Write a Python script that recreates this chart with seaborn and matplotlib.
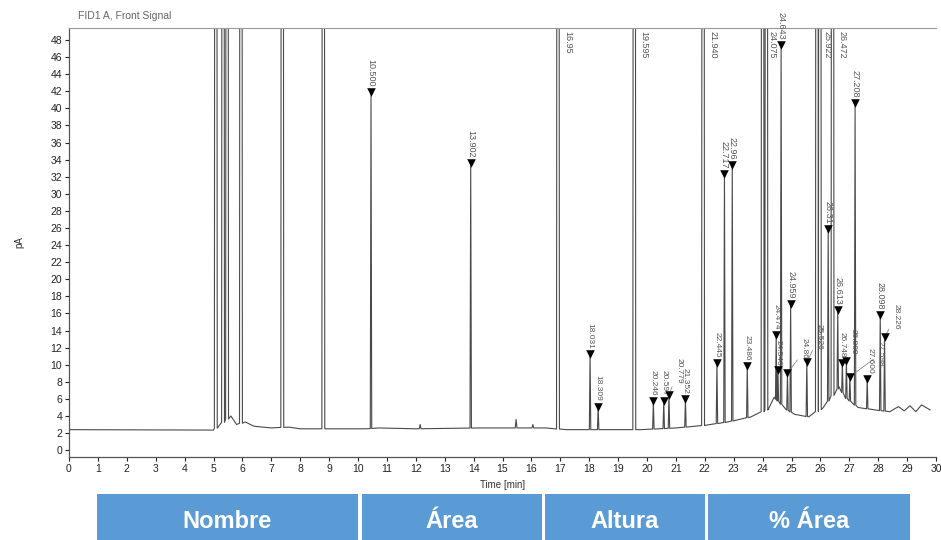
import numpy as np
import pandas as pd
import matplotlib
matplotlib.use("Agg")
import matplotlib.pyplot as plt
import seaborn as sns
from matplotlib.patches import Rectangle

# baseline of the FID signal (min, pA)
base_t = [0, 5.0, 5.6, 5.8, 6.1, 6.4, 7.0, 7.6, 8.0, 9.0, 10.3, 10.7, 12.0, 14.2,
          16.5, 17.2, 19.0, 19.8, 21.0, 22.0, 22.8, 23.6, 24.2, 24.4, 24.8, 25.1,
          25.6, 26.1, 26.65, 26.85, 27.3, 27.9, 28.4, 28.7, 28.9, 29.1, 29.3, 29.5, 29.8]
base_v = [2.4, 2.35, 4.0, 3.0, 3.3, 2.8, 2.6, 2.7, 2.5, 2.5, 2.5, 2.6, 2.5, 2.6,
          2.6, 2.4, 2.4, 2.4, 2.6, 2.9, 3.3, 3.9, 4.8, 6.2, 4.8, 4.2,
          3.9, 5.0, 7.4, 6.2, 5.0, 4.7, 4.5, 5.1, 4.6, 5.2, 4.5, 5.3, 4.7]

# peaks that run off the top of the scale
big_rt = [5.08, 5.33, 5.47, 5.95, 7.38, 8.80, 16.92, 19.56, 21.94, 24.00, 24.13,
          25.88, 25.98, 26.42]
big_label = ["", "", "", "", "", "", "16.95", "19.595", "21.940", "24.075", "",
             "25.922", "", "26.472"]

# integrated peaks with a marker (apex height in pA)
mark_rt = [10.45, 13.90, 18.03, 18.31, 20.22, 20.58, 20.76, 21.33, 22.42, 22.68,
           22.95, 23.47, 24.47, 24.53, 24.64, 24.86, 24.97, 25.53, 26.27, 26.60,
           26.76, 26.90, 27.02, 27.20, 27.62, 28.07, 28.22]
mark_v = [41.9, 33.6, 11.2, 5.1, 5.7, 5.7, 6.5, 6.0, 10.2, 32.3,
          33.4, 9.8, 13.5, 9.4, 47.4, 9.0, 17.1, 10.3, 25.9, 16.4,
          10.2, 10.4, 8.6, 40.6, 8.3, 15.8, 13.2]
mark_label = ["10.500", "13.902", "18.031", "18.309", "20.246", "20.597", "20.779",
              "21.352", "22.445", "22.717", "22.96", "23.486", "24.474", "24.546",
              "24.643", "24.867", "24.959", "25.526", "26.31", "26.613", "26.748",
              "26.889", "27.598", "27.208", "27.600", "28.098", "28.226"]

# small unmarked bumps
bump_rt = [12.15, 15.47, 16.05]
bump_v = [3.0, 3.6, 3.0]

header_labels = ["Nombre", "Área", "Altura", "% Área"]

# labels moved aside (points) with a leader line, as the integrator does
nudge = {"20.779": (7, 4), "24.546": (0, -1), "24.867": (12, 3), "25.526": (9, 5),
         "26.889": (5, 1), "27.598": (22, 3), "27.600": (2, 0), "28.226": (8, 2)}


def build_trace():
    pts = list(zip(base_t, base_v))
    peaks = [(r, 300.0, 0.05) for r in big_rt]
    peaks += [(r, h, 0.025) for r, h in zip(mark_rt, mark_v)]
    peaks += [(r, h, 0.03) for r, h in zip(bump_rt, bump_v)]
    for r, h, w in peaks:
        foot = np.interp(r, base_t, base_v)
        pts += [(r - w, foot), (r, h), (r + w, foot)]
    pts.sort(key=lambda p: p[0])
    return pd.DataFrame(pts, columns=["t", "v"])


sns.set_style("ticks")
plt.rcParams["font.family"] = ["Liberation Sans", "DejaVu Sans"]

fig = plt.figure(figsize=(9.41, 5.40), dpi=100)
ax = fig.add_axes([69 / 941, 1 - 457 / 540, 867 / 941, 429 / 540])

trace = build_trace()
sns.lineplot(data=trace, x="t", y="v", estimator=None, sort=False,
             color="#4a4a4a", lw=0.8, ax=ax)

marks = pd.DataFrame({"t": mark_rt, "v": mark_v})
sns.scatterplot(data=marks, x="t", y="v", marker="v", s=38, color="black",
                edgecolor="black", linewidth=0, zorder=5, ax=ax)

for r, h, lab in zip(mark_rt, mark_v, mark_label):
    dx, dy = nudge.get(lab, (0, 0))
    arrow = dict(arrowstyle="-", lw=0.5, color="#777777",
                 shrinkA=0, shrinkB=3) if dx > 6 else None
    ax.annotate(lab, (r, h), xytext=(dx, 4 + dy), textcoords="offset points",
                rotation=270, ha="center", va="bottom",
                fontsize=6 if h < 14 else 6.5, color="#555555",
                arrowprops=arrow)

for r, lab in zip(big_rt, big_label):
    if lab:
        ax.annotate(lab, (r, 49.4), xytext=(7, -2), textcoords="offset points",
                    rotation=270, ha="center", va="top", fontsize=6.5,
                    color="#555555")

ax.set_xlim(0, 30)
ax.set_ylim(-0.8, 49.4)
ax.set_xticks(range(0, 31))
ax.set_yticks(range(0, 49, 2))
ax.tick_params(length=3, width=0.8, labelsize=7.5, pad=2, colors="#222222")
ax.set_xlabel("Time [min]", fontsize=7, color="#333333", labelpad=4)
ax.set_ylabel("pA", fontsize=7, color="#333333", labelpad=19)
ax.spines["right"].set_visible(False)
ax.spines["top"].set_color("#9a9a9a")
for s in ["left", "bottom"]:
    ax.spines[s].set_color("#555555")
    ax.spines[s].set_linewidth(0.9)

fig.text(78 / 941, 1 - 16 / 540, "FID1 A, Front Signal", fontsize=7.5,
         color="#666666", va="center")

# table header strip
cells = [(97, 358), (362, 542), (545, 705), (708, 910)]
for (x0, x1), lab in zip(cells, header_labels):
    fig.patches.append(Rectangle((x0 / 941, 0), (x1 - x0) / 941, 46 / 540,
                                 transform=fig.transFigure,
                                 facecolor="#5b9bd5", edgecolor="none"))
    fig.text((x0 + x1) / 2 / 941, 1 - 521 / 540, lab, color="white",
             fontsize=17, fontweight="bold", ha="center", va="center")

fig.savefig("out.png", dpi=100)
